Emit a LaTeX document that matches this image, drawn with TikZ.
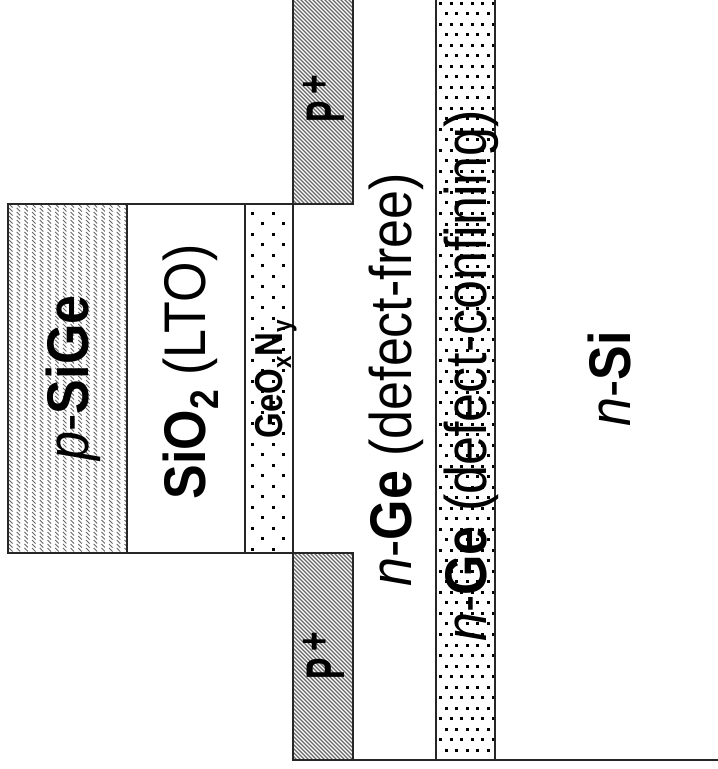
\documentclass[tikz,border=0pt]{standalone}
\usepackage{fontspec}
\setmainfont{Liberation Sans}
\usetikzlibrary{positioning}
\newcommand{\lowtext}[1]{\raisebox{-.22em}{\fontsize{.68em}{1em}\selectfont #1}}
\newcommand{\plusmark}{\hspace{7pt}\raisebox{8.5pt}{\scalebox{1.05}[.82]{+}}}
\tikzset{
    layerline/.style={line width=1.3pt,black!85},
    hatchline/.style={line width=1.1pt,black!60},
    sidelabel/.style={rotate=90,font=\fontsize{52}{52}\selectfont,inner sep=0pt,yscale=1.13},
    smalllabel/.style={rotate=90,font=\fontsize{33}{33}\selectfont\bfseries,inner sep=0pt,yscale=1.18},
    pluslabel/.style={rotate=90,font=\fontsize{32}{32}\selectfont\bfseries,inner sep=0pt,yscale=1.7}
}
\begin{document}
\begin{tikzpicture}[x=1pt,y=-1pt]
    \useasboundingbox (0,0) rectangle (718,769);
    % p-SiGe
    \begin{scope}
        \clip (8,204) rectangle (127,553);
        \foreach \s in {9,16.7,...,127}{
            \foreach \t in {204,208,...,556}{
                \draw[line width=.9pt,black!60] (\s,\t)--(\s+3.5,\t+3.5);
            }
        }
    \end{scope}
    % P+ regions
    \begin{scope}
        \clip (293,0) rectangle (353,204) (293,553) rectangle (353,760);
        \foreach \s in {-60,-56,...,760}{
            \draw[hatchline] (293,\s)--(353,\s+60);
        }
    \end{scope}
    % GeOxNy dots
    \foreach \r in {0,1,...,15}{
        \pgfmathsetmacro{\rowy}{213+\r*21}
        \foreach \s in {252,273}{
            \fill (\s-1.5,\rowy-1.5) rectangle +(3,3);
        }
        \pgfmathsetmacro{\rowy}{223.5+\r*21}
        \foreach \s in {262.5,283.5}{
            \fill (\s-1.5,\rowy-1.5) rectangle +(3,3);
        }
    }
    \foreach \s in {252,273}{
        \fill (\s-1.5,547.5) rectangle +(3,3);
    }
    % defect-confining dots
    \foreach \r in {0,1,...,35}{
        \pgfmathsetmacro{\rowy}{3+\r*21.05}
        \foreach \s in {0,1,...,5}{
            \pgfmathsetmacro{\colx}{440.5+\s*10.6}
            \fill (\colx-1.5,\rowy-1.5) rectangle +(3,3);
        }
        \pgfmathsetmacro{\rowy}{13.5+\r*21.05}
        \foreach \s in {0,1,...,4}{
            \pgfmathsetmacro{\colx}{446+\s*10.6}
            \fill (\colx-1.5,\rowy-1.5) rectangle +(3,3);
        }
    }
    % outlines
    \draw[layerline] (8,204) rectangle (127,553);
    \draw[layerline] (127,204)--(293,204);
    \draw[layerline] (127,553)--(293,553);
    \draw[layerline] (245,204)--(245,553);
    \draw[layerline] (293,0)--(293,760)--(718,760);
    \draw[layerline] (353,0)--(353,204)--(293,204);
    \draw[layerline] (353,760)--(353,553)--(293,553);
    \draw[layerline] (436,0)--(436,760);
    \draw[layerline] (495,0)--(495,760);
    % labels
    \node[sidelabel] (sige) at (73,378) {\textit{p}-\textbf{SiGe}};
    \node[sidelabel] (oxide) at (191,372) {\textbf{SiO\lowtext{2}} (LTO)};
    \node[smalllabel] (geon) at (276,379) {GeO\lowtext{x}N\lowtext{y}};
    \node[sidelabel] (free) at (396,380) {\textit{n}-\textbf{Ge} (defect-free)};
    \node[sidelabel] (conf) at (471,376) {\textit{n}-\textbf{Ge} (defect-confining)};
    \node[sidelabel] (si) at (609,379) {\textit{n}-\textbf{Si}};
    \node[pluslabel] (ptop) at (324,99) {P\plusmark};
    \node[pluslabel] (pbot) at (324,656) {P\plusmark};
\end{tikzpicture}
\end{document}
